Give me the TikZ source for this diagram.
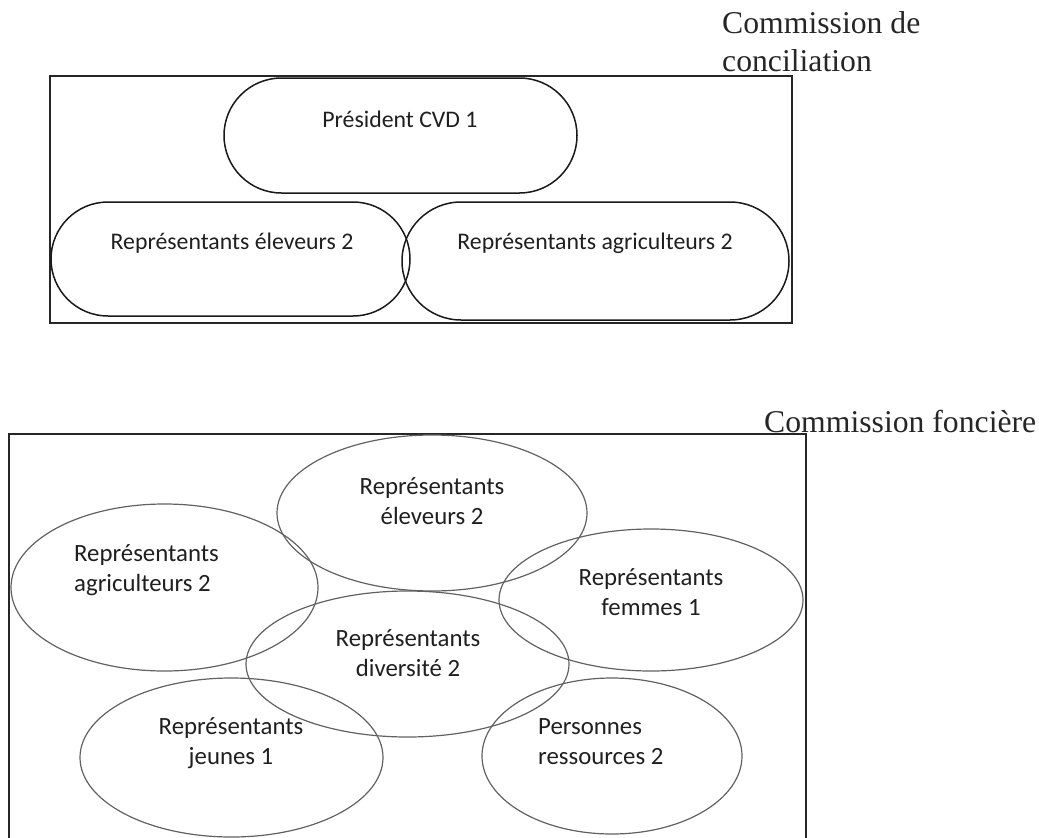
\documentclass[tikz,border=0pt]{standalone}
\usepackage{fontspec}
\setmainfont{Carlito}
\newfontfamily\timesfont{Liberation Serif}
\usepackage{tikz}
\usetikzlibrary{shapes.geometric, shapes.misc}

\begin{document}
\begin{tikzpicture}[x=1pt, y=-1pt,
    stadium/.style={draw=black!90, line width=1.5pt, rounded rectangle, inner sep=0pt},
    oval/.style={draw=black!62, line width=1.2pt, ellipse, inner sep=0pt},
    word/.style={font=\fontsize{24.8}{30}\selectfont, inner sep=0pt, text=black!88},
    small word/.style={word, font=\fontsize{23.8}{29}\selectfont},
    title/.style={font=\timesfont\fontsize{31.7}{38}\selectfont, inner sep=0pt, text=black!85, align=left}]
\useasboundingbox (0,0) rectangle (1039,838);

% commission de conciliation
\node[title, anchor=north west] (cc) at (722,11) {Commission de\\conciliation};
\draw[draw=black!85, line width=1.5pt] (50,76) rectangle (792,323);

\node[stadium, minimum width=353pt, minimum height=115pt] (pres) at (400.5,135.5) {};
\node[stadium, minimum width=359pt, minimum height=114pt] (elev) at (230.5,259) {};
\node[stadium, minimum width=387pt, minimum height=118pt] (agri) at (595.5,261) {};
\node[small word] (pres-t) at (400,119) {Président CVD 1};
\node[small word] (elev-t) at (232,243) {Représentants éleveurs 2};
\node[small word] (agri-t) at (595,243) {Représentants agriculteurs 2};

% commission fonciere
\node[title, anchor=base west] (cf) at (764,432) {Commission foncière};
\draw[draw=black!85, line width=1.5pt] (9,838) -- (9,434) -- (806,434) -- (806,838);

\node[oval, minimum width=310pt, minimum height=156pt] (f-elev) at (432,513) {};
\node[oval, minimum width=307pt, minimum height=167pt] (f-agri) at (164.5,587.5) {};
\node[oval, minimum width=304pt, minimum height=142pt] (f-fem) at (651,600) {};
\node[oval, minimum width=323pt, minimum height=146pt] (f-div) at (407.5,664) {};
\node[oval, minimum width=303pt, minimum height=159pt] (f-jeun) at (231.5,757.5) {};
\node[oval, minimum width=260pt, minimum height=156pt] (f-pers) at (612,756) {};

\node[word, align=center] (f-elev-t) at (432,501) {Représentants\\éleveurs 2};
\node[word, align=left, anchor=west] (f-agri-t) at (74,570) {Représentants\\agriculteurs 2};
\node[word, align=center] (f-fem-t) at (651,592) {Représentants\\femmes 1};
\node[word, align=center] (f-div-t) at (408,653) {Représentants\\diversité 2};
\node[word, align=center] (f-jeun-t) at (231,743) {Représentants\\jeunes 1};
\node[word, align=left, anchor=west] (f-pers-t) at (538,742) {Personnes\\ressources 2};
\end{tikzpicture}
\end{document}
